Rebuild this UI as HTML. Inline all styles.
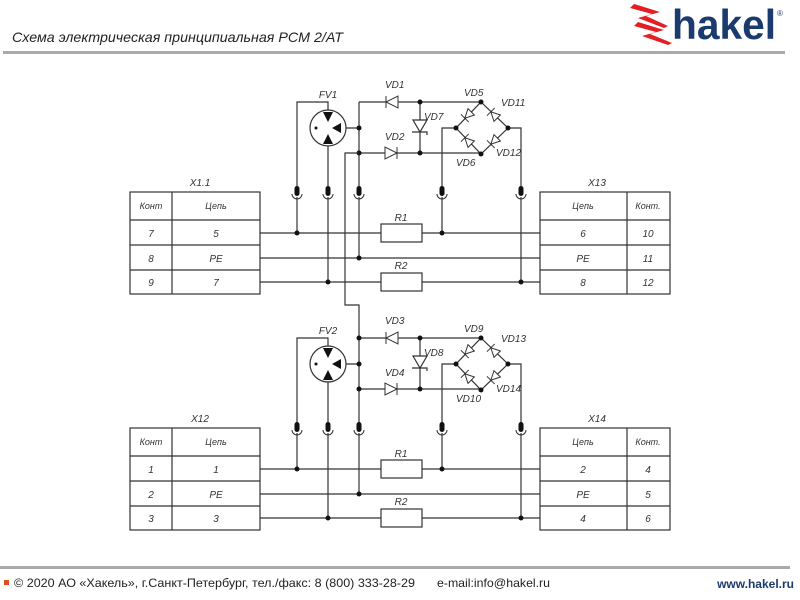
<!DOCTYPE html>
<html><head><meta charset="utf-8"><style>
html,body{margin:0;padding:0;background:#fff;width:800px;height:600px;overflow:hidden}
svg{display:block}
.t{font-family:"Liberation Sans",sans-serif;font-style:italic;fill:#333}
</style></head><body>
<svg width="800" height="600" viewBox="0 0 800 600" xmlns="http://www.w3.org/2000/svg">
<defs>
<g id="d"><polygon points="-6,-6 -6,6 6,0" fill="#fff" stroke="#333" stroke-width="1"/><line x1="6" y1="-6" x2="6" y2="6" stroke="#333"/></g>
<g id="d2"><polygon points="-4.5,-4.5 -4.5,4.5 4.5,0" fill="#fff" stroke="#333" stroke-width="1"/><line x1="4.5" y1="-5.5" x2="4.5" y2="5.5" stroke="#333"/></g>
<g id="c"><rect x="-2.5" y="-5" width="5" height="10" rx="2.5" fill="#111"/><path d="M-5,3 A5,5 0 0 0 5,3" fill="none" stroke="#333"/></g>
<g id="sec" stroke="#333" stroke-width="1.2" fill="none">
 <rect x="130" y="192" width="130" height="102"/>
 <line x1="172" y1="192" x2="172" y2="294"/>
 <line x1="130" y1="220" x2="260" y2="220"/><line x1="130" y1="245" x2="260" y2="245"/><line x1="130" y1="270" x2="260" y2="270"/>
 <rect x="540" y="192" width="130" height="102"/>
 <line x1="627" y1="192" x2="627" y2="294"/>
 <line x1="540" y1="220" x2="670" y2="220"/><line x1="540" y1="245" x2="670" y2="245"/><line x1="540" y1="270" x2="670" y2="270"/>
 <line x1="260" y1="233" x2="381" y2="233"/><line x1="422" y1="233" x2="540" y2="233"/>
 <line x1="260" y1="258" x2="540" y2="258"/>
 <line x1="260" y1="282" x2="381" y2="282"/><line x1="422" y1="282" x2="540" y2="282"/>
 <rect x="381" y="224" width="41" height="18" fill="#fff"/>
 <rect x="381" y="273" width="41" height="18" fill="#fff"/>
 <polyline points="297,233 297,102 328,102 328,112"/>
 <line x1="328" y1="146" x2="328" y2="282"/>
 <line x1="359" y1="102" x2="359" y2="258"/>
 <line x1="359" y1="128" x2="340" y2="128"/>
 <polyline points="442,233 442,128 456,128"/>
 <polyline points="521,282 521,128 508,128"/>
 <line x1="359" y1="102" x2="481" y2="102"/>
 <line x1="359" y1="153" x2="481" y2="153"/>
 <line x1="420" y1="102" x2="420" y2="153"/>
 <polygon points="481,102 508,128 481,154 456,128"/>
 <circle cx="328" cy="128" r="18" fill="#fff"/>
 <polygon points="323,112 333,112 328,122" fill="#111" stroke="none"/>
 <polygon points="323,144 333,144 328,134" fill="#111" stroke="none"/>
 <polygon points="332,128 341,123 341,133" fill="#111" stroke="none"/>
 <circle cx="316" cy="128" r="1.5" fill="#111" stroke="none"/>
 <polygon points="413,120 427,120 420,132" fill="#fff"/>
 <polyline points="412,132 427,132 427,135"/>
</g>
<g id="dots" fill="#111">
 <circle cx="359" cy="128" r="2.5"/><circle cx="359" cy="153" r="2.5"/>
 <circle cx="420" cy="102" r="2.5"/><circle cx="420" cy="153" r="2.5"/>
 <circle cx="481" cy="102" r="2.5"/><circle cx="481" cy="154" r="2.5"/>
 <circle cx="456" cy="128" r="2.5"/><circle cx="508" cy="128" r="2.5"/>
 <circle cx="297" cy="233" r="2.5"/><circle cx="442" cy="233" r="2.5"/>
 <circle cx="359" cy="258" r="2.5"/><circle cx="328" cy="282" r="2.5"/><circle cx="521" cy="282" r="2.5"/>
</g>
<g id="all">
 <use href="#sec"/><use href="#dots"/>
 <use href="#d" transform="translate(392,102) rotate(180)"/>
 <use href="#d" transform="translate(391,153)"/>
 <use href="#d2" transform="translate(468,115) rotate(135)"/>
 <use href="#d2" transform="translate(494,115) rotate(225)"/>
 <use href="#d2" transform="translate(468,141) rotate(225)"/>
 <use href="#d2" transform="translate(494,141) rotate(135)"/>
 <rect x="290" y="180" width="240" height="22" fill="#fff"/>
 <use href="#c" transform="translate(297,191)"/>
 <use href="#c" transform="translate(328,191)"/>
 <use href="#c" transform="translate(359,191)"/>
 <use href="#c" transform="translate(442,191)"/>
 <use href="#c" transform="translate(521,191)"/>
 <g stroke="#333" stroke-width="1.2">
 <line x1="297" y1="197" x2="297" y2="202"/><line x1="328" y1="197" x2="328" y2="202"/><line x1="359" y1="197" x2="359" y2="202"/><line x1="442" y1="197" x2="442" y2="202"/><line x1="521" y1="197" x2="521" y2="202"/>
 <line x1="297" y1="180" x2="297" y2="186"/><line x1="328" y1="180" x2="328" y2="186"/><line x1="359" y1="180" x2="359" y2="186"/><line x1="442" y1="180" x2="442" y2="186"/><line x1="521" y1="180" x2="521" y2="186"/>
 </g>
</g>
</defs>

<text x="12" y="42" class="t" style="font-size:14px;fill:#222" textLength="331" lengthAdjust="spacingAndGlyphs">Схема электрическая принципиальная PCM 2/AT</text>
<rect x="3" y="51" width="782" height="3" fill="#aaa"/>

<g fill="#e31e24">
 <polygon points="634,4 660,12 646,16 668,26 664,28 638,18 652,14 630,8"/>
 <polygon points="638,22 664,30 650,34 672,43 668,45 642,36 656,32 634,26"/>
</g>
<text x="672" y="39" style="font-family:'Liberation Sans',sans-serif;font-weight:bold;font-size:42px;fill:#1b3b6f" textLength="104" lengthAdjust="spacingAndGlyphs">hakel</text>
<text x="777" y="16" style="font-family:'Liberation Sans',sans-serif;font-size:8px;fill:#1b3b6f">®</text>

<use href="#all"/>
<use href="#all" transform="translate(0,236)"/>
<polyline points="359,153 345,153 345,305 359,305 359,338" fill="none" stroke="#333" stroke-width="1.2"/>
<circle cx="359" cy="338" r="2.5" fill="#111"/>

<g class="t" font-size="10">
 <text x="328" y="98" text-anchor="middle">FV1</text>
 <text x="385" y="88">VD1</text><text x="385" y="140">VD2</text>
 <text x="424" y="120">VD7</text><text x="464" y="96">VD5</text><text x="501" y="106">VD11</text>
 <text x="456" y="166">VD6</text><text x="496" y="156">VD12</text>
 <text x="401" y="221" text-anchor="middle">R1</text><text x="401" y="269" text-anchor="middle">R2</text>
 <text x="200" y="186" text-anchor="middle">X1.1</text><text x="597" y="186" text-anchor="middle">X13</text>
 <text x="328" y="334" text-anchor="middle">FV2</text>
 <text x="385" y="324">VD3</text><text x="385" y="376">VD4</text>
 <text x="424" y="356">VD8</text><text x="464" y="332">VD9</text><text x="501" y="342">VD13</text>
 <text x="456" y="402">VD10</text><text x="496" y="392">VD14</text>
 <text x="401" y="457" text-anchor="middle">R1</text><text x="401" y="505" text-anchor="middle">R2</text>
 <text x="200" y="422" text-anchor="middle">X12</text><text x="597" y="422" text-anchor="middle">X14</text>
</g>
<g class="t" font-size="9" text-anchor="middle">
 <text x="151" y="209">Конт</text><text x="216" y="209">Цепь</text>
 <text x="583" y="209">Цепь</text><text x="648" y="209">Конт.</text>
 <text x="151" y="445">Конт</text><text x="216" y="445">Цепь</text>
 <text x="583" y="445">Цепь</text><text x="648" y="445">Конт.</text>
</g>
<g class="t" font-size="10" text-anchor="middle">
 <text x="151" y="237">7</text><text x="216" y="237">5</text><text x="583" y="237">6</text><text x="648" y="237">10</text>
 <text x="151" y="262">8</text><text x="216" y="262">PE</text><text x="583" y="262">PE</text><text x="648" y="262">11</text>
 <text x="151" y="286">9</text><text x="216" y="286">7</text><text x="583" y="286">8</text><text x="648" y="286">12</text>
 <text x="151" y="473">1</text><text x="216" y="473">1</text><text x="583" y="473">2</text><text x="648" y="473">4</text>
 <text x="151" y="498">2</text><text x="216" y="498">PE</text><text x="583" y="498">PE</text><text x="648" y="498">5</text>
 <text x="151" y="522">3</text><text x="216" y="522">3</text><text x="583" y="522">4</text><text x="648" y="522">6</text>
</g>

<rect x="0" y="566" width="790" height="3" fill="#aaa"/>
<rect x="4" y="580" width="5" height="5" fill="#e0501e"/>
<text x="14" y="587" style="font-family:'Liberation Sans',sans-serif;font-size:12px;fill:#222" textLength="401" lengthAdjust="spacingAndGlyphs">© 2020 АО «Хакель», г.Санкт-Петербург, тел./факс: 8 (800) 333-28-29</text>
<text x="437" y="587" style="font-family:'Liberation Sans',sans-serif;font-size:12px;fill:#222" textLength="113" lengthAdjust="spacingAndGlyphs">e-mail:info@hakel.ru</text>
<text x="794" y="588" text-anchor="end" style="font-family:'Liberation Sans',sans-serif;font-size:12px;font-weight:bold;fill:#1b3b6f">www.hakel.ru</text>
</svg>
</body></html>
